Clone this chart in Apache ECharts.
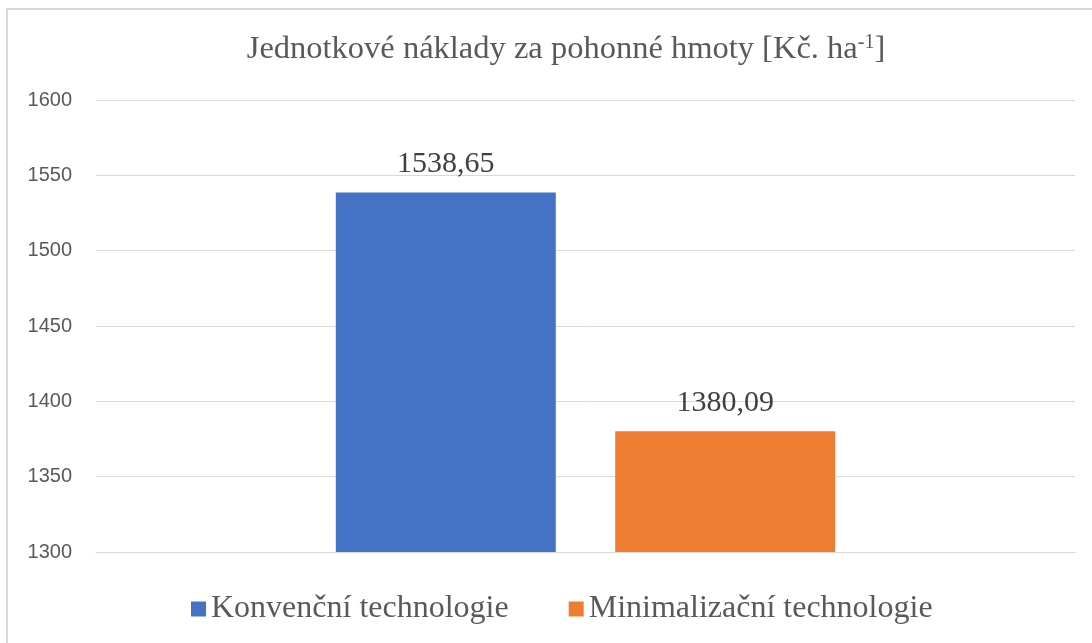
<!DOCTYPE html>
<html>
<head>
<meta charset="utf-8">
<script src="https://cdn.jsdelivr.net/npm/echarts@6/dist/echarts.min.js"></script>
<style>
  html, body { margin: 0; padding: 0; background: #fff; }
  #chart { width: 1092px; height: 643px; }
</style>
</head>
<body>
<div id="chart"></div>
<script>
// data
var categories = ['']
var seriesNames = ['Konvenční technologie', 'Minimalizační technologie']
var konvencni = [1538.65]
var minimalizacni = [1380.09]
var yTicks = [1300, 1350, 1400, 1450, 1500, 1550, 1600]

var serif = '"Liberation Serif", "Times New Roman", serif'
var textGray = '#595959'

var chart = echarts.init(document.getElementById('chart'))

function labelFmt(p) {
    return p.value.toFixed(2).replace('.', ',')
}

chart.setOption({
    animation: false,
    graphic: [{
        type: 'rect',
        shape: { x: 7, y: 9, width: 1200, height: 700 },
        style: { fill: 'none', stroke: '#d9d9d9', lineWidth: 2 },
        silent: true
    }],
    title: {
        text: '{a|Jednotkové náklady za pohonné hmoty [Kč. ha}{sup|-1}{a|]}',
        left: 561,
        top: 28,
        textAlign: 'center',
        textStyle: {
            fontWeight: 'normal',
            rich: {
                a: { fontFamily: serif, fontSize: 32.5, fontWeight: 'normal', color: textGray },
                sup: { fontFamily: serif, fontSize: 20, fontWeight: 'normal', color: textGray, verticalAlign: 'top', padding: [0, 0, 12, 0] }
            }
        }
    },
    grid: {
        left: 96,
        right: 17,
        top: 100,
        bottom: 91
    },
    legend: {
        data: seriesNames,
        left: 186,
        top: 588,
        icon: 'rect',
        itemWidth: 15,
        itemHeight: 15,
        itemGap: 60,
        textStyle: { fontFamily: serif, fontSize: 32, color: textGray }
    },
    xAxis: {
        type: 'category',
        data: categories,
        axisLine: { lineStyle: { color: '#d9d9d9', width: 1 } },
        axisTick: { show: false },
        axisLabel: { show: false }
    },
    yAxis: {
        type: 'value',
        min: yTicks[0],
        max: yTicks[yTicks.length - 1],
        interval: 50,
        axisLine: { show: false },
        axisTick: { show: false },
        splitLine: { lineStyle: { color: '#d9d9d9', width: 1 } },
        axisLabel: {
            margin: 24,
            formatter: function (v) { return String(v) },
            fontFamily: '"Liberation Sans", Arial, sans-serif',
            fontSize: 20,
            color: textGray
        }
    },
    series: [
        {
            name: seriesNames[0],
            type: 'bar',
            data: konvencni,
            barWidth: 220,
            barGap: '27%',
            itemStyle: { color: '#4472C4' },
            label: {
                show: true,
                position: 'top',
                distance: 13,
                formatter: labelFmt,
                fontFamily: serif,
                fontSize: 30,
                color: '#404040'
            }
        },
        {
            name: seriesNames[1],
            type: 'bar',
            data: minimalizacni,
            barWidth: 220,
            itemStyle: { color: '#ED7D31' },
            label: {
                show: true,
                position: 'top',
                distance: 13,
                formatter: labelFmt,
                fontFamily: serif,
                fontSize: 30,
                color: '#404040'
            }
        }
    ]
})
</script>
</body>
</html>
